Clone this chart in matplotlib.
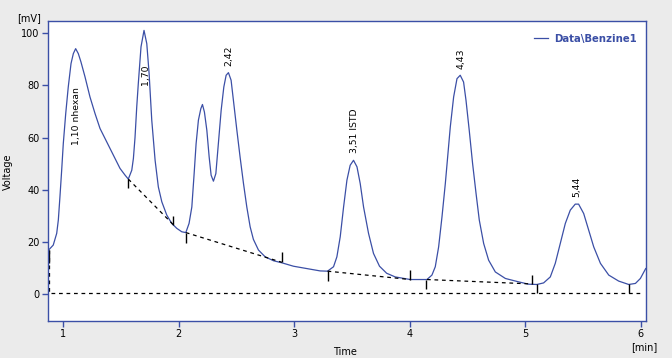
import numpy as np
import matplotlib
matplotlib.use("Agg")
import matplotlib.pyplot as plt

# chromatogram trace: time [min], voltage [mV]
time = [0.873, 0.913, 0.943, 0.957, 0.971, 0.986, 1.000, 1.021, 1.043, 1.067, 1.087,
        1.107, 1.130, 1.153, 1.188, 1.231, 1.275, 1.318, 1.361, 1.405, 1.448, 1.491,
        1.535, 1.563, 1.593, 1.607, 1.621, 1.636, 1.650, 1.673, 1.699, 1.723, 1.743,
        1.766, 1.795, 1.823, 1.853, 1.896, 1.939, 1.983, 2.026, 2.061, 2.089, 2.113,
        2.133, 2.150, 2.170, 2.191, 2.205, 2.222, 2.243, 2.263, 2.280, 2.300, 2.321,
        2.343, 2.367, 2.390, 2.410, 2.430, 2.453, 2.473, 2.503, 2.531, 2.560, 2.589,
        2.618, 2.646, 2.690, 2.748, 2.820, 2.893, 2.993, 3.109, 3.224, 3.288, 3.340,
        3.369, 3.398, 3.427, 3.456, 3.484, 3.513, 3.543, 3.571, 3.600, 3.643, 3.686,
        3.738, 3.800, 3.874, 4.004, 4.149, 4.192, 4.221, 4.250, 4.279, 4.308, 4.331,
        4.351, 4.380, 4.409, 4.437, 4.466, 4.487, 4.515, 4.544, 4.574, 4.602, 4.640,
        4.683, 4.741, 4.828, 4.943, 5.030, 5.101, 5.159, 5.217, 5.260, 5.303, 5.347,
        5.390, 5.433, 5.462, 5.506, 5.549, 5.593, 5.651, 5.723, 5.809, 5.896, 5.954,
        5.997, 6.043]
volt = [16.9, 18.8, 23.3, 28.4, 37.3, 47.5, 57.7, 69.2, 79.4, 88.4, 92.2,
        94.1, 92.2, 89.0, 83.3, 75.6, 69.2, 63.5, 59.7, 55.8, 52.0, 48.2,
        45.6, 44.1, 47.5, 52.0, 60.0, 71.8, 81.0, 94.8, 101.1, 96.0, 84.6,
        66.7, 51.3, 41.1, 35.4, 30.3, 27.1, 25.2, 23.9, 23.6, 27.1, 33.4,
        46.2, 57.7, 66.7, 71.1, 72.7, 69.8, 62.8, 52.6, 45.6, 43.3, 46.2,
        57.7, 70.5, 79.4, 83.9, 84.9, 82.0, 74.3, 62.8, 52.5, 42.5, 33.4,
        25.8, 21.0, 16.9, 14.3, 12.8, 12.0, 10.7, 9.8, 8.9, 8.8, 10.5,
        14.3, 22.0, 33.4, 43.7, 49.4, 51.3, 48.8, 42.4, 33.4, 23.3, 15.6,
        10.7, 8.0, 6.6, 5.6, 5.6, 7.3, 10.5, 18.1, 29.6, 42.4, 53.9,
        64.1, 75.6, 82.6, 83.9, 81.3, 74.3, 62.8, 50.1, 38.6, 28.4, 19.4,
        13.0, 8.5, 6.0, 4.7, 3.8, 3.7, 4.3, 6.6, 11.8, 19.4, 27.1,
        32.2, 34.5, 34.5, 30.9, 24.5, 18.1, 11.8, 7.3, 5.0, 3.7, 4.1,
        6.0, 9.8]

# integration baselines (dashed segments)
base_t = [[0.873, 0.873, 6.0], [1.563, 1.953], [2.061, 2.893], [3.288, 4.004], [4.149, 5.06]]
base_v = [[16.9, 0.5, 0.5], [44.1, 26.6], [23.6, 12.2], [8.8, 5.6], [5.6, 3.9]]

# peak start / end markers
mark_t = [0.873, 1.563, 1.953, 2.061, 2.893, 3.288, 4.004, 4.137, 5.06, 5.10, 5.895]
mark_v0 = [16.9, 44.1, 26.6, 23.6, 12.2, 8.8, 5.6, 5.6, 3.9, 3.7, 3.7]
mark_v1 = [11.8, 40.5, 30.0, 19.7, 16.0, 5.1, 9.2, 2.0, 7.3, 0.3, 0.3]

# peak labels
peak_names = ["1,10 nhexan", "1,70", "2,42", "3,51 ISTD", "4,43", "5,44"]
peak_t = [1.116, 1.714, 2.435, 3.519, 4.445, 5.45]
peak_v = [57.0, 80.0, 87.5, 54.0, 86.2, 37.3]

blue = "#3b4fa6"
plt.rcParams["font.family"] = ["DejaVu Sans"]

fig = plt.figure(figsize=(6.72, 3.58), dpi=100, facecolor="#ebebeb")
ax = fig.add_axes([47.7/672, 1-321/358, 598/672, 300/358])
ax.set_facecolor("white")

ax.plot(time, volt, color=blue, lw=0.9, label="Data\\Benzine1")
for bt, bv in zip(base_t, base_v):
    ax.plot(bt, bv, color="black", lw=0.9, ls=(0, (3, 3)))
ax.vlines(mark_t, mark_v0, mark_v1, color="black", lw=1)

for name, t, v in zip(peak_names, peak_t, peak_v):
    ax.text(t, v, name, rotation=90, ha="center", va="bottom", fontsize=6.7)

ax.set_xlim(0.865, 6.043)
ax.set_ylim(-10.3, 104.7)
ax.set_xticks([1, 2, 3, 4, 5, 6])
ax.set_yticks([0, 20, 40, 60, 80, 100])
ax.tick_params(length=4, width=1, color=blue, labelsize=7, pad=2)
for s in ax.spines.values():
    s.set_color(blue)
    s.set_linewidth(1)

leg = ax.legend(loc="center right", bbox_to_anchor=(0.985, 0.94), frameon=False,
                handlelength=1.4, handletextpad=0.6, borderpad=0, borderaxespad=0,
                prop={"weight": "bold", "size": 7.3})
for txt in leg.get_texts():
    txt.set_color(blue)

fig.text(29/672, 1-18/358, "[mV]", ha="center", va="center", fontsize=7)
fig.text(8/672, 1-172/358, "Voltage", ha="center", va="center", rotation=90, fontsize=7)
fig.text(345/672, 1-352/358, "Time", ha="center", va="center", fontsize=7)
fig.text(644/672, 1-347/358, "[min]", ha="center", va="center", fontsize=7)

fig.savefig("out.png", dpi=100, facecolor=fig.get_facecolor())
